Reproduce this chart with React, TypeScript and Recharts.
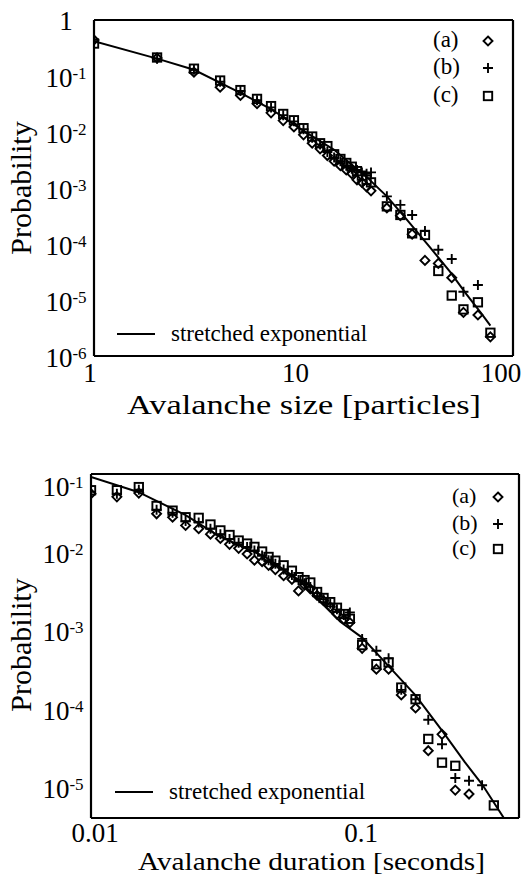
import React from 'react';
import { ScatterChart, Scatter, XAxis, YAxis } from 'recharts';

const FONT = "'Liberation Serif', 'Times New Roman', Times, serif";

// ---- top panel: avalanche size ----
const sizeBins = [1, 2, 3, 4, 5, 6, 7, 8, 9, 10, 11, 12, 13, 14, 15, 16, 17, 18, 19, 20, 21, 25, 29, 33, 38, 44, 51, 58, 68, 78];
const sizeProbA = [0.44, 0.21, 0.117, 0.063, 0.045, 0.032, 0.022, 0.016, 0.0123, 0.0089, 0.0063, 0.005, 0.0038, 0.003, 0.0025, 0.0021, 0.0018, 0.0014, 0.00126, 0.00105, 0.00089, 4.4e-4, 3.2e-4, 1.5e-4, 5.1e-5, 4.5e-5, 2.5e-5, 6.0e-6, 5.4e-6, 2.2e-6];
const sizeProbB = [0.42, 0.204, 0.129, 0.079, 0.054, 0.037, 0.0275, 0.02, 0.0155, 0.0112, 0.0079, 0.006, 0.0044, 0.0035, 0.003, 0.0025, 0.0022, 0.0021, 0.0019, 0.0018, 0.0019, 7.1e-4, 5.0e-4, 3.3e-4, 1.7e-4, 7.9e-5, 5.4e-5, 1.4e-5, 1.85e-5, null];
const sizeProbC = [0.38, 0.214, 0.135, 0.083, 0.056, 0.039, 0.029, 0.021, 0.0162, 0.0117, 0.0083, 0.0063, 0.0056, 0.004, 0.0033, 0.0028, 0.0024, 0.002, 0.00166, 0.0014, 0.00126, 4.7e-4, 3.3e-4, 1.55e-4, 1.45e-4, 3.3e-5, 1.2e-5, 6.8e-6, 9.1e-6, 2.6e-6];
const sizeFitX = [1, 2, 3, 5, 7, 10, 14, 20, 25, 30, 40, 50, 60, 70, 78];
const sizeFitY = [0.42, 0.204, 0.129, 0.05, 0.0257, 0.0105, 0.0048, 0.00158, 7.1e-4, 3.2e-4, 8.9e-5, 3.2e-5, 1.26e-5, 6.0e-6, 3.5e-6];
const sizeTicks = [1, 10, 100];
const sizeMinor = [2, 3, 4, 5, 6, 7, 8, 9, 20, 30, 40, 50, 60, 70, 80, 90];
const sizeProbTicks = [1e-6, 1e-5, 1e-4, 1e-3, 1e-2, 1e-1, 1];
const sizeProbMinor = [2e-6, 5e-6, 2e-5, 5e-5, 2e-4, 5e-4, 2e-3, 5e-3, 2e-2, 5e-2, 2e-1, 5e-1];

// ---- bottom panel: avalanche duration ----
const durBins = [0.01, 0.0125, 0.0151, 0.0176, 0.0202, 0.0226, 0.0253, 0.028, 0.0305, 0.033, 0.0357, 0.0384, 0.0409, 0.0437, 0.0462, 0.049, 0.0526, 0.0565, 0.0598, 0.063, 0.0662, 0.0702, 0.0742, 0.0786, 0.0833, 0.0884, 0.0931, 0.1035, 0.117, 0.13, 0.145, 0.164, 0.183, 0.206, 0.231, 0.26, 0.291, 0.322];
const durProbA = [0.056, 0.051, 0.057, 0.031, 0.028, 0.022, 0.02, 0.017, 0.015, 0.0126, 0.0112, 0.0095, 0.0079, 0.0076, 0.0068, 0.006, 0.005, 0.0045, 0.0032, 0.0038, 0.0034, 0.0028, 0.0024, 0.002, 0.00162, 0.00138, 0.00126, 5.9e-4, 3.2e-4, 3.2e-4, 1.5e-4, 1.02e-4, 2.9e-5, 4.7e-5, 9.1e-6, 8.1e-6, null, null];
const durProbB = [0.059, 0.056, 0.063, 0.035, 0.032, 0.025, 0.024, 0.02, 0.017, 0.0148, 0.0132, 0.0117, 0.0105, 0.0091, 0.0079, 0.0071, 0.006, 0.0051, 0.0044, 0.004, 0.0036, 0.003, 0.0025, 0.0022, 0.00186, 0.00158, 0.0017, 7.8e-4, 5.5e-4, 4.4e-4, 1.74e-4, 1.32e-4, 7.2e-5, 3.5e-5, 1.3e-5, 1.2e-5, 1.05e-5, null];
const durProbC = [0.062, 0.062, 0.068, 0.039, 0.034, 0.028, 0.0275, 0.0226, 0.019, 0.0166, 0.0141, 0.0129, 0.0117, 0.0102, 0.0087, 0.0078, 0.0068, 0.0058, 0.0048, 0.0044, 0.0041, 0.0031, 0.0026, 0.0023, 0.00195, 0.00162, 0.00141, 6.5e-4, 3.7e-4, 3.9e-4, 1.86e-4, 1.32e-4, 4.1e-5, 2.04e-5, 1.86e-5, null, null, 5.8e-6];
const durFitX = [0.01, 0.015, 0.0226, 0.03, 0.0449, 0.06, 0.0858, 0.1035, 0.13, 0.164, 0.2064, 0.25, 0.2914, 0.351];
const durFitY = [0.092, 0.059, 0.0298, 0.0162, 0.0087, 0.0044, 0.00129, 8.1e-4, 3.5e-4, 1.48e-4, 5.2e-5, 2.1e-5, 1.07e-5, 4.0e-6];
const durTicks = [0.01, 0.1];
const durMinor = [0.02, 0.03, 0.04, 0.05, 0.06, 0.07, 0.08, 0.09, 0.2, 0.3, 0.4];
const durProbTicks = [1e-5, 1e-4, 1e-3, 1e-2, 1e-1];
const durProbMinor = [5e-6, 2e-5, 5e-5, 2e-4, 5e-4, 2e-3, 5e-3, 2e-2, 5e-2];

const toPoints = (xs: number[], ys: (number | null)[]) =>
  xs.map((x, i) => ({ x, y: ys[i] })).filter((p) => p.y != null);

// markers
const DiamondMark = ({ cx, cy }: any) => (
  <path d={`M${cx},${cy - 4.5}L${cx + 4.5},${cy}L${cx},${cy + 4.5}L${cx - 4.5},${cy}Z`} fill="none" stroke="#000" strokeWidth={1.9} />
);
const PlusMark = ({ cx, cy }: any) => (
  <path d={`M${cx - 5},${cy}H${cx + 5}M${cx},${cy - 5}V${cy + 5}`} stroke="#000" strokeWidth={1.9} />
);
const SquareMark = ({ cx, cy }: any) => (
  <rect x={cx - 4.2} y={cy - 4.2} width={8.4} height={8.4} fill="none" stroke="#000" strokeWidth={1.9} />
);
const NoMark = () => <g />;

const ProbTick = ({ x, y, payload, topShift }: any) => {
  const exp = Math.round(Math.log10(payload.value));
  const dy = exp === 0 ? 10 : 11 + (topShift && payload.value === topShift.value ? topShift.dy : 0);
  if (exp === 0) {
    return <text x={x - 28} y={y + dy} textAnchor="middle" style={{ fontFamily: FONT }} fontSize={27}>1</text>;
  }
  return (
    <text x={x - 28} y={y + dy} textAnchor="middle" style={{ fontFamily: FONT }} fontSize={27}>
      10<tspan dy={-8} fontSize={17}>{exp}</tspan>
    </text>
  );
};

const ValueTick = ({ x, y, payload, shift, dy }: any) => {
  const label = String(payload.value);
  return (
    <text x={x + shift * label.length} y={y + dy} textAnchor="middle" style={{ fontFamily: FONT }} fontSize={27}>
      {label}
    </text>
  );
};

type Pt = { x: number; y: number | null };
type PanelProps = {
  top: number;
  height: number;
  margin: { top: number; right: number; bottom: number; left: number };
  xDomain: [number, number];
  yDomain: [number, number];
  xTicks: number[];
  xMinor: number[];
  yTicks: number[];
  yMinor: number[];
  xShift: number;
  xDy: number;
  topShift?: { value: number; dy: number };
  fit: Pt[];
  seriesA: Pt[];
  seriesB: Pt[];
  seriesC: Pt[];
  children?: React.ReactNode;
};

const Panel = (p: PanelProps) => {
  const common = { type: 'number' as const, scale: 'log' as const, allowDataOverflow: true };
  const frame = { stroke: '#000', strokeWidth: 2.2 };
  const tickLine = { stroke: '#000', strokeWidth: 1.5 };
  return (
    <div style={{ position: 'absolute', left: 0, top: p.top, width: 527, height: p.height }}>
      <ScatterChart width={527} height={p.height} margin={p.margin}>
        <XAxis xAxisId="x" dataKey="x" {...common} domain={p.xDomain} ticks={p.xTicks} interval={0}
          tickLine={false} tickSize={0} tickMargin={0} axisLine={frame} height={50}
          tick={(t: any) => <ValueTick {...t} shift={p.xShift} dy={p.xDy} />} />
        <XAxis xAxisId="xb" {...common} domain={p.xDomain} ticks={p.xTicks} interval={0} mirror
          tick={false} tickSize={7} tickLine={tickLine} axisLine={false} />
        <XAxis xAxisId="xbm" {...common} domain={p.xDomain} ticks={p.xMinor} interval={0} mirror
          tick={false} tickSize={4} tickLine={tickLine} axisLine={false} />
        <XAxis xAxisId="xt" orientation="top" {...common} domain={p.xDomain} ticks={p.xTicks} interval={0} mirror
          tick={false} tickSize={7} tickLine={tickLine} axisLine={frame} />
        <XAxis xAxisId="xtm" orientation="top" {...common} domain={p.xDomain} ticks={p.xMinor} interval={0} mirror
          tick={false} tickSize={4} tickLine={tickLine} axisLine={false} />
        <YAxis yAxisId="y" dataKey="y" {...common} domain={p.yDomain} ticks={p.yTicks} interval={0}
          tickLine={false} tickSize={0} tickMargin={0} axisLine={frame} width={60}
          tick={(t: any) => <ProbTick {...t} topShift={p.topShift} />} />
        <YAxis yAxisId="yl" {...common} domain={p.yDomain} ticks={p.yTicks} interval={0} mirror
          tick={false} tickSize={7} tickLine={tickLine} axisLine={false} />
        <YAxis yAxisId="ylm" {...common} domain={p.yDomain} ticks={p.yMinor} interval={0} mirror
          tick={false} tickSize={4} tickLine={tickLine} axisLine={false} />
        <YAxis yAxisId="yr" orientation="right" {...common} domain={p.yDomain} ticks={p.yTicks} interval={0} mirror
          tick={false} tickSize={7} tickLine={tickLine} axisLine={frame} />
        <YAxis yAxisId="yrm" orientation="right" {...common} domain={p.yDomain} ticks={p.yMinor} interval={0} mirror
          tick={false} tickSize={4} tickLine={tickLine} axisLine={false} />
        <Scatter xAxisId="x" yAxisId="y" data={p.fit} line={{ stroke: '#000', strokeWidth: 2 }} shape={NoMark} isAnimationActive={false} />
        <Scatter xAxisId="x" yAxisId="y" data={p.seriesA} shape={DiamondMark} isAnimationActive={false} />
        <Scatter xAxisId="x" yAxisId="y" data={p.seriesB} shape={PlusMark} isAnimationActive={false} />
        <Scatter xAxisId="x" yAxisId="y" data={p.seriesC} shape={SquareMark} isAnimationActive={false} />
      </ScatterChart>
      <svg width={527} height={p.height} style={{ position: 'absolute', left: 0, top: 0, pointerEvents: 'none', fontFamily: FONT }}>
        {p.children}
      </svg>
    </div>
  );
};

const Legend = ({ x, mx, rows, fontSize }: { x: number; mx: number; rows: number[]; fontSize: number }) => (
  <g fontSize={fontSize}>
    <text x={x} y={rows[0] + 6}>(a)</text>
    <DiamondMark cx={mx} cy={rows[0]} />
    <text x={x} y={rows[1] + 6}>(b)</text>
    <PlusMark cx={mx} cy={rows[1]} />
    <text x={x} y={rows[2] + 6}>(c)</text>
    <SquareMark cx={mx} cy={rows[2]} />
  </g>
);

const FitKey = ({ x, y }: { x: number; y: number }) => (
  <g fontSize={23}>
    <line x1={x} x2={x + 38} y1={y} y2={y} stroke="#000" strokeWidth={2} />
    <text x={x + 54} y={y + 7}>stretched exponential</text>
  </g>
);

export default function App() {
  return (
    <div style={{ position: 'absolute', left: 0, top: 0, width: 527, height: 877, background: '#fff' }}>
      <Panel
        top={0}
        height={420}
        margin={{ top: 20, right: 14, bottom: 14, left: 34 }}
        xDomain={[1, 100]}
        yDomain={[1e-6, 1]}
        xTicks={sizeTicks}
        xMinor={sizeMinor}
        yTicks={sizeProbTicks}
        yMinor={sizeProbMinor}
        xShift={-4}
        xDy={26}
        fit={toPoints(sizeFitX, sizeFitY)}
        seriesA={toPoints(sizeBins, sizeProbA)}
        seriesB={toPoints(sizeBins, sizeProbB)}
        seriesC={toPoints(sizeBins, sizeProbC)}
      >
        <text transform="translate(31,188) rotate(-90)" textAnchor="middle" fontSize={30}>Probability</text>
        <text x={127} y={414} fontSize={28} textLength={354} lengthAdjust="spacingAndGlyphs">Avalanche size [particles]</text>
        <Legend x={433} mx={488} rows={[41, 68, 96]} fontSize={23} />
        <FitKey x={117} y={334} />
      </Panel>
      <Panel
        top={420}
        height={457}
        margin={{ top: 54, right: 8, bottom: 9, left: 31 }}
        xDomain={[0.01, 0.4]}
        yDomain={[4e-6, 0.1]}
        xTicks={durTicks}
        xMinor={durMinor}
        yTicks={durProbTicks}
        yMinor={durProbMinor}
        xShift={1}
        xDy={24}
        topShift={{ value: 0.1, dy: 11 }}
        fit={toPoints(durFitX, durFitY)}
        seriesA={toPoints(durBins, durProbA)}
        seriesB={toPoints(durBins, durProbB)}
        seriesC={toPoints(durBins, durProbC)}
      >
        <text transform="translate(31,225) rotate(-90)" textAnchor="middle" fontSize={30}>Probability</text>
        <text x={138} y={450} fontSize={26} textLength={347} lengthAdjust="spacingAndGlyphs">Avalanche duration [seconds]</text>
        <Legend x={452} mx={498} rows={[77, 104, 129]} fontSize={22} />
        <FitKey x={115} y={372} />
      </Panel>
    </div>
  );
}
